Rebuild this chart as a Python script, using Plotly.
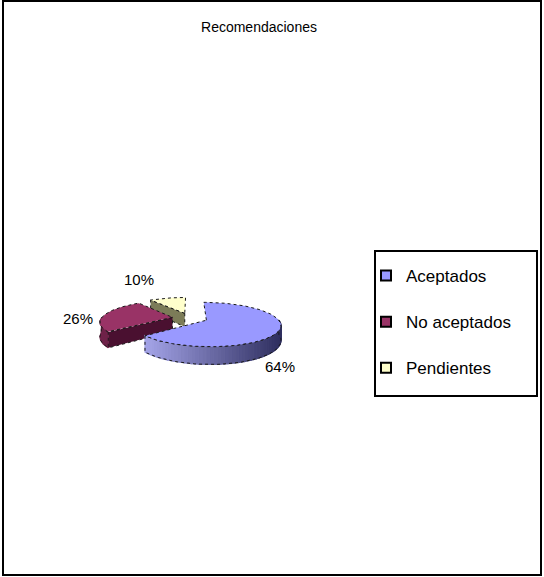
import numpy as np
import plotly.graph_objects as go

# Data
categories = ["Aceptados", "No aceptados", "Pendientes"]
values = [64, 26, 10]
top_colors = ["#9999FF", "#993366", "#FFFFCC"]
wall_colors = ["#6c6cb8", "#6e2148", "#8a8a62"]
face_colors = ["#3c3c70", "#4a1030", "#7c7c58"]

W, H = 544, 577
FONT = "Liberation Sans, Arial, sans-serif"

# 3-D pie geometry (pixel space)
cx, cy = 190.0, 318.0      # centre of the top surface
rx, ry = 71.0, 20.5        # ellipse radii
depth = 14.0               # thickness of the disc
persp = 0.19               # perspective strength (back is smaller)
explode = 0.25             # slice offset, in radius units


def proj(X, Y, Z=0.0):
    X = np.asarray(X, float)
    Y = np.asarray(Y, float)
    p = 1.0 / (1.0 + persp * Y)
    return cx + rx * X * p, cy - ry * Y * p - depth * Z * p


def mix(c0, c1, t):
    a = np.array([int(c0[i:i + 2], 16) for i in (1, 3, 5)], float)
    b = np.array([int(c1[i:i + 2], 16) for i in (1, 3, 5)], float)
    c = a + (b - a) * t
    return "rgb(%d,%d,%d)" % tuple(np.round(c))


total = sum(values)
bounds = np.concatenate([[0], np.cumsum(values)]) / total * 360.0

slices = []
for i, v in enumerate(values):
    a0, a1 = bounds[i], bounds[i + 1]
    m = np.radians((a0 + a1) / 2)
    slices.append(dict(i=i, a0=a0, a1=a1,
                       ox=explode * np.sin(m), oy=explode * np.cos(m)))

fig = go.Figure()
OUT = dict(color="#1a1a1a", width=1, dash="dot")


def poly(xs, ys, fill, line=None):
    fig.add_trace(go.Scatter(
        x=list(xs) + [xs[0]], y=list(ys) + [ys[0]], mode="lines",
        fill="toself", fillcolor=fill,
        line=line if line else dict(color=fill, width=1.2),
        hoverinfo="skip", showlegend=False))


# draw back slices first
for s in sorted(slices, key=lambda d: -d["oy"]):
    i, a0, a1, ox, oy = s["i"], s["a0"], s["a1"], s["ox"], s["oy"]

    # radial face at the start angle (faces the viewer when sin < 0)
    if np.sin(np.radians(a0)) < -1e-6:
        r = np.radians(a0)
        X = [ox, ox + np.sin(r), ox + np.sin(r), ox]
        Y = [oy, oy + np.cos(r), oy + np.cos(r), oy]
        Z = [0, 0, -1, -1]
        px, py = proj(X, Y, np.array(Z, float))
        poly(px, py, face_colors[i], OUT)

    # radial face at the end angle
    if np.sin(np.radians(a1)) > 1e-6:
        r = np.radians(a1)
        X = [ox, ox + np.sin(r), ox + np.sin(r), ox]
        Y = [oy, oy + np.cos(r), oy + np.cos(r), oy]
        Z = [0, 0, -1, -1]
        px, py = proj(X, Y, np.array(Z, float))
        poly(px, py, face_colors[i], OUT)

    # outer curved wall, front half only
    w0, w1 = max(a0, 90.0), min(a1, 270.0)
    if w1 > w0:
        th = np.radians(np.linspace(w0, w1, 60))
        X = ox + np.sin(th)
        Y = oy + np.cos(th)
        tx, ty = proj(X, Y, 0.0)
        bx, by = proj(X, Y, -1.0)
        if i == 0:
            # shaded wall: light on the left, dark on the right
            xmin, xmax = tx.min(), tx.max()
            for k in range(len(th) - 1):
                t = ((tx[k] + tx[k + 1]) / 2 - xmin) / (xmax - xmin)
                col = mix("#a4a4e8", "#2e2e5e", t)
                poly([tx[k], tx[k + 1], bx[k + 1], bx[k]],
                     [ty[k], ty[k + 1], by[k + 1], by[k]], col)
        else:
            poly(np.r_[tx, bx[::-1]], np.r_[ty, by[::-1]], wall_colors[i])
        fig.add_trace(go.Scatter(
            x=np.r_[tx, bx[::-1], tx[:1]], y=np.r_[ty, by[::-1], ty[:1]],
            mode="lines", line=OUT, hoverinfo="skip", showlegend=False))

    # top face
    th = np.radians(np.linspace(a0, a1, 120))
    X = np.r_[ox, ox + np.sin(th)]
    Y = np.r_[oy, oy + np.cos(th)]
    px, py = proj(X, Y, 0.0)
    poly(px, py, top_colors[i], OUT)

# percentage labels
label_pos = [(280, 366), (78, 318), (139, 279)]
for v, (lx, ly) in zip(values, label_pos):
    fig.add_annotation(x=lx, y=ly, text=f"{v}%", showarrow=False,
                       font=dict(family=FONT, size=15, color="#000"),
                       xanchor="center", yanchor="middle")

# legend entries
for i, name in enumerate(categories):
    fig.add_trace(go.Scatter(
        x=[None], y=[None], mode="markers", name=name, legendgroup=name,
        marker=dict(symbol="square", size=10, color=top_colors[i],
                    line=dict(color="#000", width=2))))

fig.update_layout(
    width=W, height=H, autosize=False,
    margin=dict(l=0, r=0, t=0, b=0),
    paper_bgcolor="white", plot_bgcolor="white",
    xaxis=dict(range=[0, W], visible=False, fixedrange=True),
    yaxis=dict(range=[H, 0], visible=False, fixedrange=True),
    title=dict(text="Recomendaciones", x=259 / W, y=1 - 27 / H,
               xanchor="center", yanchor="middle",
               font=dict(family=FONT, size=14, color="#000")),
    legend=dict(x=366 / W, y=1 - 258 / H, xanchor="left", yanchor="top",
                bgcolor="rgba(0,0,0,0)", borderwidth=0,
                tracegroupgap=21,
                font=dict(family=FONT, size=17, color="#000")),
    shapes=[
        dict(type="rect", xref="paper", yref="paper",
             x0=3 / W, x1=541 / W, y0=1 - 575 / H, y1=1 - 1 / H,
             line=dict(color="#000", width=2)),
        dict(type="rect", xref="x", yref="y",
             x0=375, x1=537, y0=251, y1=396,
             line=dict(color="#000", width=2)),
    ],
)

fig.write_html("out.html")
